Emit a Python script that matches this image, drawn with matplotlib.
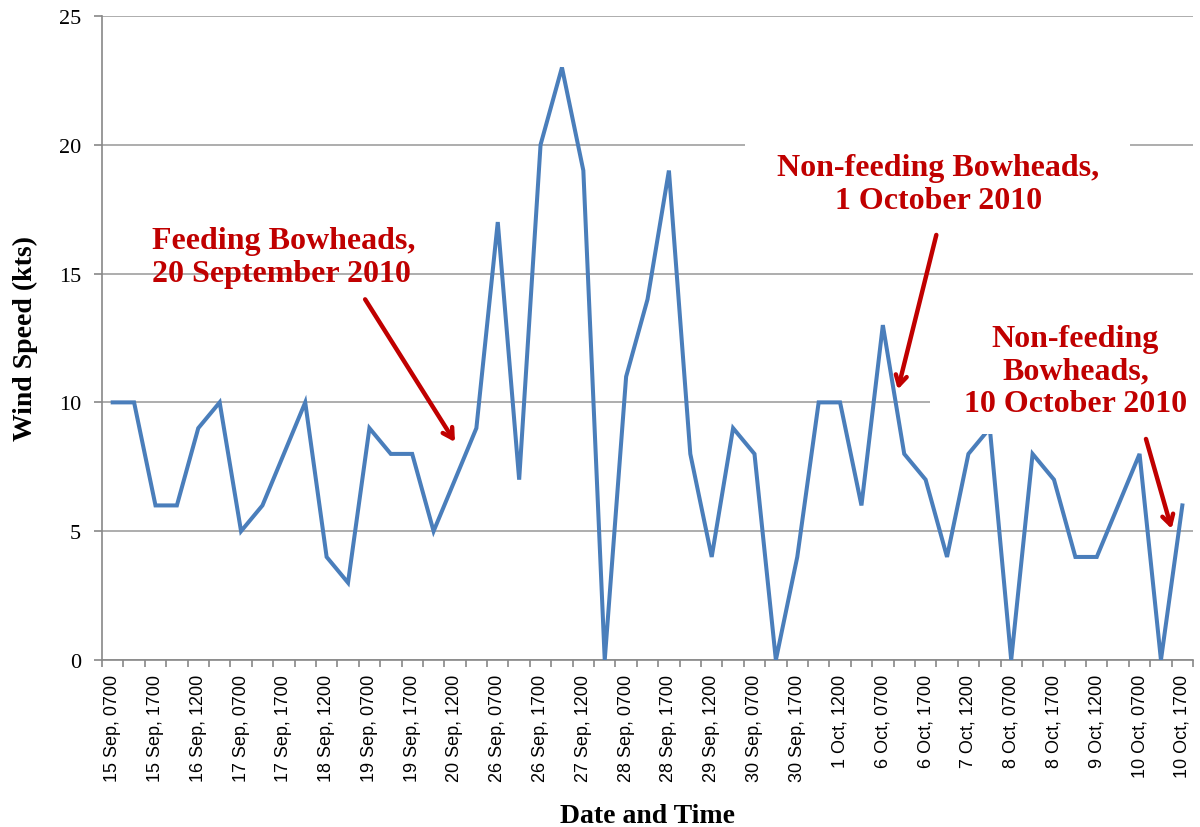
import numpy as np
import matplotlib
matplotlib.use('Agg')
import matplotlib.pyplot as plt
from matplotlib.patches import Rectangle

# wind speed readings (kts), one per observation
wind = [10, 10, 6, 6, 9, 10, 5, 6, 8, 10,
        4, 3, 9, 8, 8, 5, 7, 9, 17, 7,
        20, 23, 19, 0, 11, 14, 19, 8, 4, 9,
        8, 0, 4, 10, 10, 6, 13, 8, 7, 4,
        8, 9, 0, 8, 7, 4, 4, 6, 8, 0, 6]

# every other observation gets a label
tick_labels = ['15 Sep, 0700', '15 Sep, 1700', '16 Sep, 1200', '17 Sep, 0700',
               '17 Sep, 1700', '18 Sep, 1200', '19 Sep, 0700', '19 Sep, 1700',
               '20 Sep, 1200', '26 Sep, 0700', '26 Sep, 1700', '27 Sep, 1200',
               '28 Sep, 0700', '28 Sep, 1700', '29 Sep, 1200', '30 Sep, 0700',
               '30 Sep, 1700', '1 Oct, 1200', '6 Oct, 0700', '6 Oct, 1700',
               '7 Oct, 1200', '8 Oct, 0700', '8 Oct, 1700', '9 Oct, 1200',
               '10 Oct, 0700', '10 Oct, 1700']

red = '#C00000'
serif = 'Liberation Serif'
sans = 'Liberation Sans'

fig = plt.figure(figsize=(12, 8.28), dpi=100)
ax = fig.add_axes([0.085, 0.2017, 0.9092, 0.7778])

x = np.arange(len(wind))
ax.plot(x, wind, color='#4A7EBB', lw=2.9, zorder=3, solid_joinstyle='miter')

ax.set_xlim(-0.5, len(wind) - 0.5)
ax.set_ylim(0, 25)

# gridlines
ax.set_yticks([0, 5, 10, 15, 20, 25])
ax.yaxis.grid(True, color='#A0A0A0', lw=1.2, zorder=1)
ax.set_axisbelow(True)

for s in ['top', 'right']:
    ax.spines[s].set_visible(False)
for s in ['left', 'bottom']:
    ax.spines[s].set_color('#888888')
    ax.spines[s].set_linewidth(1.2)

ax.set_yticklabels(['0', '5', '10', '15', '20', '25'], fontfamily=serif, fontsize=16)
ax.tick_params(axis='y', length=6, color='#888888', width=1.2, pad=9)

ax.set_xticks(x[::2])
ax.set_xticklabels(tick_labels, rotation=90, fontfamily=sans, fontsize=13)
ax.set_xticks(np.arange(-0.5, len(wind)), minor=True)
ax.tick_params(axis='x', which='major', length=0, pad=10)
ax.tick_params(axis='x', which='minor', length=5, color='#888888', width=1.2)

ax.set_xlabel('Date and Time', fontfamily=serif, fontsize=20, fontweight='bold')
ax.xaxis.set_label_coords(0.5, -0.242)
ax.xaxis.label.set_va('center')
ax.set_ylabel('Wind Speed (kts)', fontfamily=serif, fontsize=20, fontweight='bold')
ax.yaxis.set_label_coords(-0.0706, 0.5)
ax.yaxis.label.set_va('center')

# white backgrounds behind the right-hand notes
ax.add_patch(Rectangle((29.56, 16.8), 18.0, 3.8, facecolor='white',
                       edgecolor='none', zorder=4))
ax.add_patch(Rectangle((38.2, 8.77), 14, 5.0, facecolor='white',
                       edgecolor='none', zorder=4, clip_on=False))

txt = dict(color=red, fontfamily=serif, fontsize=23, fontweight='bold', zorder=6,
           linespacing=1.15)
ax.text(1.84, 15.64, 'Feeding Bowheads,\n20 September 2010', ha='left', va='center',
        multialignment='left', **txt)
ax.text(38.6, 18.48, 'Non-feeding Bowheads,\n1 October 2010', ha='center', va='center',
        multialignment='center', **txt)
ax.text(45.0, 11.22, 'Non-feeding\nBowheads,\n10 October 2010', ha='center', va='center',
        multialignment='center', **txt)

arr = dict(arrowstyle='->,head_length=0.7,head_width=0.4', color=red, lw=3.2,
           shrinkA=0, shrinkB=0)
ax.annotate('', xy=(16.0, 8.46), xytext=(11.8, 14.0), arrowprops=arr, zorder=7)
ax.annotate('', xy=(36.7, 10.5), xytext=(38.5, 16.5), arrowprops=arr, zorder=7)
ax.annotate('', xy=(49.5, 5.09), xytext=(48.3, 8.58), arrowprops=arr, zorder=7)

fig.savefig('out.png', dpi=100)
